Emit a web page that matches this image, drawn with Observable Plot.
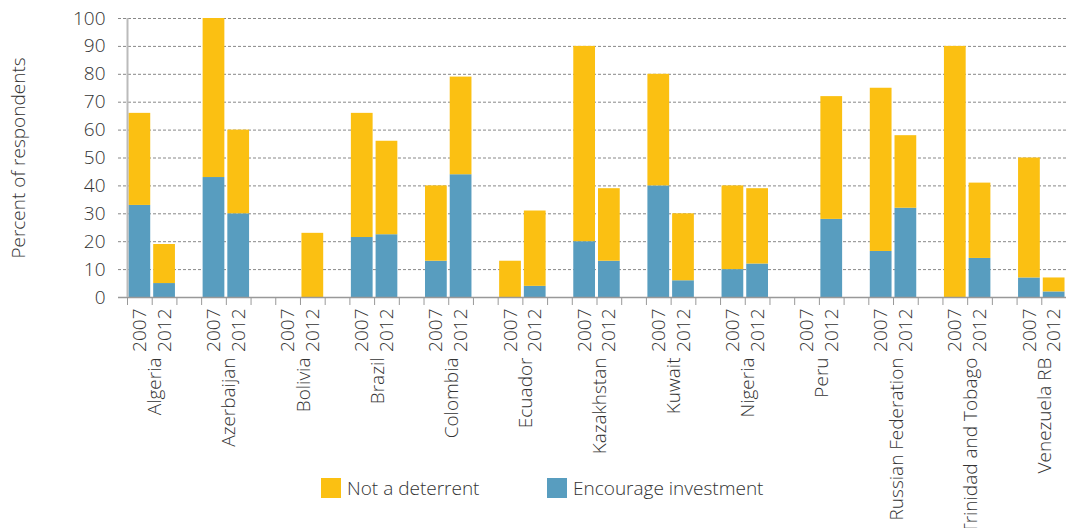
<!DOCTYPE html>
<html><head><meta charset="utf-8">
<script src="https://cdn.jsdelivr.net/npm/d3@7"></script>
<script src="https://cdn.jsdelivr.net/npm/@observablehq/plot@0.6"></script>
<style>
body{margin:0;background:#fff;font-family:"Open Sans",sans-serif;}
#wrap{position:relative;width:1066px;height:528px;overflow:hidden;}
#legend{position:absolute;left:321px;top:478px;display:flex;align-items:center;font-size:19px;color:#333;font-weight:300;line-height:20px}
.item{display:flex;align-items:center}
.sw{display:inline-block;width:20px;height:20px;margin-right:6px}
</style></head><body><div id="wrap"><div id="chart"></div><div id="legend"></div></div>
<script>
const countries = ["Algeria","Azerbaijan","Bolivia","Brazil","Colombia","Ecuador","Kazakhstan","Kuwait","Nigeria","Peru","Russian Federation","Trinidad and Tobago","Venezuela RB"];
const years = ["2007","2012"];
const encourage2007    = [33, 43, null, 21.5, 13, 0, 20, 40, 10, null, 16.5, 0, 7];
const encourage2012    = [5, 30, 0, 22.5, 44, 4, 13, 6, 12, 28, 32, 14, 2];
const notDeterrent2007 = [33, 57, null, 44.5, 27, 13, 70, 40, 30, null, 58.5, 90, 43];
const notDeterrent2012 = [14, 30, 23, 33.5, 35, 27, 26, 24, 27, 44, 26, 27, 5];
const seriesNames = ["Encourage investment","Not a deterrent"];
const seriesColors = ["#589DBF","#FBC012"];
const yTicks = [0,10,20,30,40,50,60,70,80,90,100];

// slots: 2007, 2012, gap for each country (no trailing gap)
const slots = [];
countries.forEach((c, i) => {
  slots.push(c + "|2007", c + "|2012");
  if (i < countries.length - 1) slots.push(c + "|gap");
});
const barKeys = slots.filter(k => !k.endsWith("|gap"));

const rows = [];
countries.forEach((c, i) => {
  const vals = {
    "2007": [encourage2007[i], notDeterrent2007[i]],
    "2012": [encourage2012[i], notDeterrent2012[i]]
  };
  years.forEach(y => {
    vals[y].forEach((v, s) => {
      if (v != null) rows.push({key: c + "|" + y, series: seriesNames[s], value: v});
    });
  });
});

const W = 1066, H = 528, ML = 127, MR = 0, MT = 18, MB = H - 297;
const step = (W - ML - MR) / slots.length;
const txt = "#333";

const chart = Plot.plot({
  width: W, height: H,
  marginLeft: ML, marginRight: MR, marginTop: MT, marginBottom: MB,
  style: {fontFamily: "'Open Sans', sans-serif", fontSize: "19px", fontWeight: 300, color: txt, background: "#fff"},
  x: {domain: slots, paddingInner: 0.12, paddingOuter: 0.06, round: false, axis: null},
  y: {domain: [0, 100], axis: null},
  color: {domain: seriesNames, range: seriesColors},
  marks: [
    Plot.gridY(yTicks.filter(d => d > 0), {stroke: "#888", strokeOpacity: 1, strokeDasharray: "3,2", insetLeft: -9}),
    Plot.barY(rows, Plot.stackY({x: "key", y: "value", fill: "series", order: seriesNames})),
    Plot.ruleY([0], {stroke: "#999", strokeWidth: 1.5, insetLeft: -9}),
    Plot.ruleX([slots[0]], {dx: -step / 2, stroke: "#bbb", strokeWidth: 2}),
    Plot.axisY(yTicks, {tickSize: 0, tickPadding: 22, fill: txt, label: null, fontSize: 19}),
    Plot.axisX(slots, {tickSize: 8, tickFormat: () => "", dx: -step / 2, stroke: "#999", label: null}),
    Plot.axisX(barKeys, {tickSize: 0, tickPadding: 11, tickRotate: -90, tickFormat: k => k.split("|")[1], fill: txt, label: null, fontSize: 19}),
    Plot.axisX(countries.map(c => c + "|2007"), {tickSize: 0, tickPadding: 60, tickRotate: -90, tickFormat: k => k.split("|")[0], dx: step / 2 + 3, fill: txt, label: null, fontSize: 19}),
    Plot.text(["Percent of respondents"], {frameAnchor: "left", textAnchor: "middle", rotate: -90, dx: -109, fill: txt, fontSize: 19})
  ]
});
document.getElementById("chart").appendChild(chart);

const legend = document.getElementById("legend");
[["Not a deterrent", seriesColors[1], 226], ["Encourage investment", seriesColors[0], null]].forEach(([name, col, w]) => {
  const it = document.createElement("div");
  it.className = "item";
  if (w) it.style.width = w + "px";
  it.innerHTML = `<span class="sw" style="background:${col}"></span><span>${name}</span>`;
  legend.appendChild(it);
});
</script></body></html>
